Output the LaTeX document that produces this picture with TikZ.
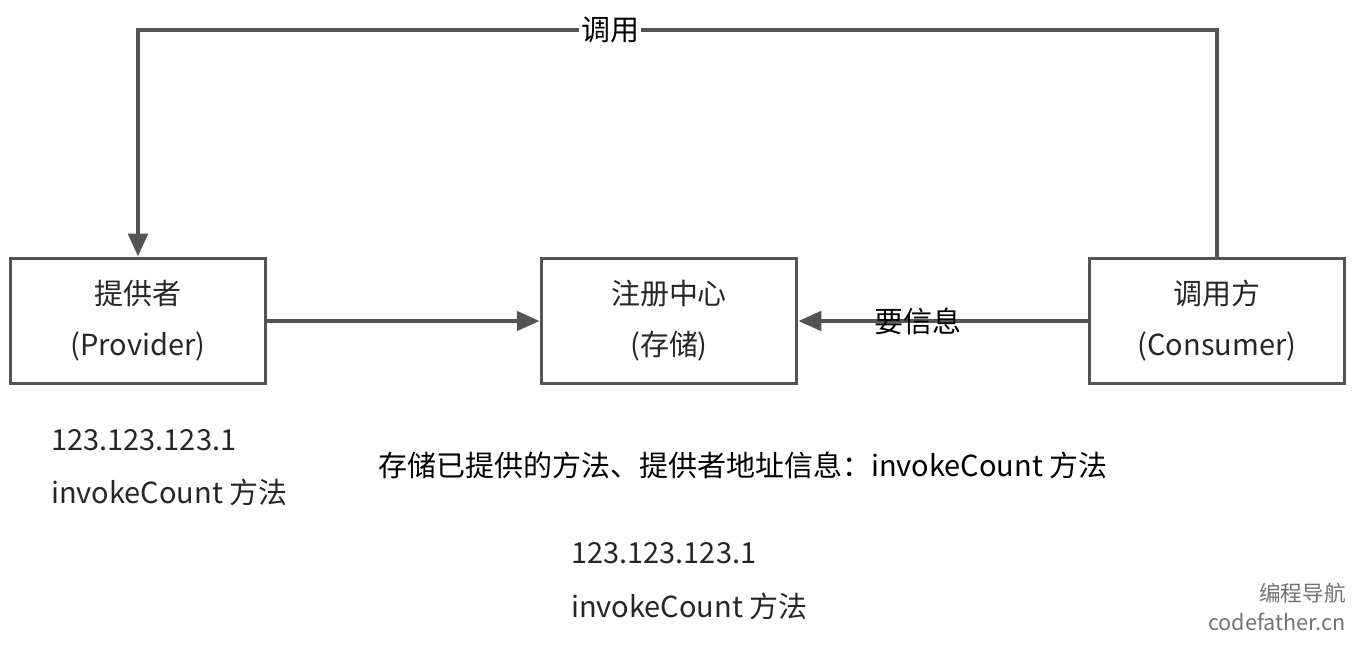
\documentclass[tikz,border=0pt]{standalone}
\usepackage{fontspec}
\setmainfont{Noto Sans CJK SC}
\usetikzlibrary{arrows.meta}
\definecolor{linegray}{HTML}{545454}
\begin{document}
\begin{tikzpicture}[x=0.02cm,y=-0.02cm,
        font=\fontsize{16.5}{29}\selectfont,
        box/.style={draw=linegray,line width=2.2pt,minimum width=5.1cm,minimum height=2.5cm,align=center,text=black!85},
        flow/.style={draw=linegray,line width=2.2pt,-{Triangle[length=13pt,width=11pt]}},
        note/.style={anchor=west,text=black!85}]
    \useasboundingbox (0,0) rectangle (1360,646);
    \node[box] (prov) at (138,321) {提供者\\(Provider)};
    \node[box] (reg) at (669,321) {注册中心\\(存储)};
    \node[box] (cons) at (1217,321) {调用方\\(Consumer)};
    \coordinate (tr) at (1217,30);
    \coordinate (tl) at (138,30);
    % calls
    \draw[flow] (cons.north) -- (tr) -- (tl) -- (prov.north);
    \node[fill=white,inner sep=1pt] (call) at (610,30) {调用};
    \draw[flow] (prov) -- (reg);
    \draw[flow] (cons) -- (reg);
    \node (ask) at (918,321) {要信息};
    % notes
    \node[note] (ip1) at (45,440) {123.123.123.1};
    \node[note] (m1) at (45,492) {invokeCount 方法};
    \node (info) at (743,465) {存储已提供的方法、提供者地址信息：invokeCount 方法};
    \node[note] (ip2) at (565,553) {123.123.123.1};
    \node[note] (m2) at (565,606) {invokeCount 方法};
    \node[anchor=east,text=black!55,font=\fontsize{12.3}{14}\selectfont] (wm1) at (1352,593) {编程导航};
    \node[anchor=east,text=black!55,font=\fontsize{12.3}{14}\selectfont] (wm2) at (1352,622) {codefather.cn};
\end{tikzpicture}
\end{document}
